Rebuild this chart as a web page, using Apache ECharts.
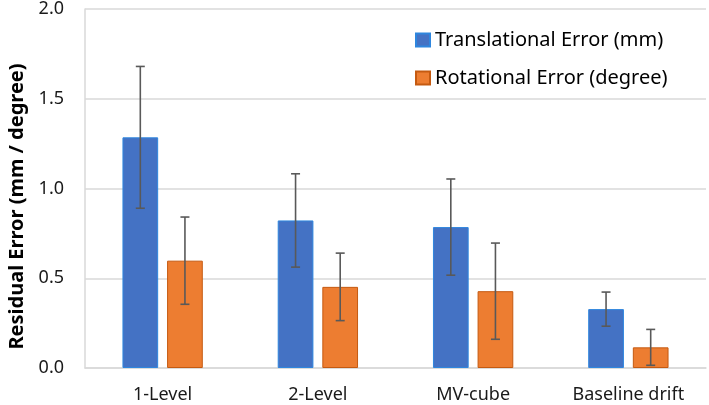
<!DOCTYPE html>
<html><head><meta charset="utf-8">
<script src="https://cdn.jsdelivr.net/npm/echarts@6/dist/echarts.min.js"></script>
<style>html,body{margin:0;padding:0;background:#fff}#c{width:709px;height:405px}</style>
</head><body><div id="c"></div>
<script>
const categories = ['1-Level', '2-Level', 'MV-cube', 'Baseline drift'];
const translational = [1.285, 0.822, 0.785, 0.328];
const translationalErr = [0.395, 0.26, 0.268, 0.095];
const rotational = [0.598, 0.452, 0.428, 0.115];
const rotationalErr = [0.243, 0.188, 0.268, 0.1];
const yTicks = [0, 0.5, 1.0, 1.5, 2.0];

const FONT = 'Noto Sans';
const BW = 0.23, GAP = 0.25;
function errSeries(vals, errs, side) {
  return {
    type: 'custom', z: 10,
    data: vals.map((v, i) => [i, v, errs[i]]),
    renderItem: function (params, api) {
      const i = api.value(0), v = api.value(1), e = api.value(2);
      const band = api.size([1, 0])[0];
      const bw = band * BW, off = side * (bw + bw * GAP) / 2;
      const top = api.coord([i, v + e]);
      const bot = api.coord([i, v - e]);
      const x = top[0] + off, cw = 4.5;
      const st = { stroke: '#595959', lineWidth: 1.6 };
      return { type: 'group', children: [
        { type: 'line', shape: { x1: x, y1: top[1], x2: x, y2: bot[1] }, style: st },
        { type: 'line', shape: { x1: x - cw, y1: top[1], x2: x + cw, y2: top[1] }, style: st },
        { type: 'line', shape: { x1: x - cw, y1: bot[1], x2: x + cw, y2: bot[1] }, style: st }
      ]};
    }
  };
}

const chart = echarts.init(document.getElementById('c'));
chart.setOption({
  animation: false,
  textStyle: { fontFamily: FONT },
  grid: { left: 85, right: 3, top: 9, bottom: 37, outerBoundsMode: 'none', containLabel: false },
  legend: {
    orient: 'vertical', left: 410, top: 25, itemWidth: 14, itemHeight: 13, itemGap: 18,
    icon: 'rect',
    data: ['Translational Error (mm)', 'Rotational Error (degree)'],
    textStyle: { fontSize: 20, color: '#000', fontFamily: FONT }
  },
  xAxis: {
    type: 'category', data: categories,
    axisLine: { lineStyle: { color: '#d9d9d9', width: 1.5 } },
    axisTick: { show: false },
    axisLabel: { fontSize: 18, color: '#1a1a1a', margin: 18, fontFamily: FONT }
  },
  yAxis: {
    type: 'value', min: yTicks[0], max: yTicks[yTicks.length - 1], interval: 0.5,
    name: 'Residual Error (mm / degree)', nameLocation: 'middle', nameGap: 57,
    nameTextStyle: { fontSize: 20, fontWeight: 'bold', color: '#000', fontFamily: FONT, padding: [0, 36, 0, 0] },
    axisLine: { show: true, lineStyle: { color: '#d9d9d9', width: 1.5 } },
    axisTick: { show: false },
    splitLine: { lineStyle: { color: '#d9d9d9', width: 1.5 } },
    axisLabel: { fontSize: 18, color: '#1a1a1a', margin: 21, fontFamily: FONT, formatter: v => v.toFixed(1) }
  },
  series: [
    { name: 'Translational Error (mm)', type: 'bar', data: translational, barWidth: '23%', barGap: '25%',
      itemStyle: { color: '#4472C4', borderColor: '#2E86DE', borderWidth: 1 } },
    { name: 'Rotational Error (degree)', type: 'bar', data: rotational, barWidth: '23%', barGap: '25%',
      itemStyle: { color: '#ED7D31', borderColor: '#C55A11', borderWidth: 1 } },
    errSeries(translational, translationalErr, -1),
    errSeries(rotational, rotationalErr, 1)
  ]
});
</script></body></html>
